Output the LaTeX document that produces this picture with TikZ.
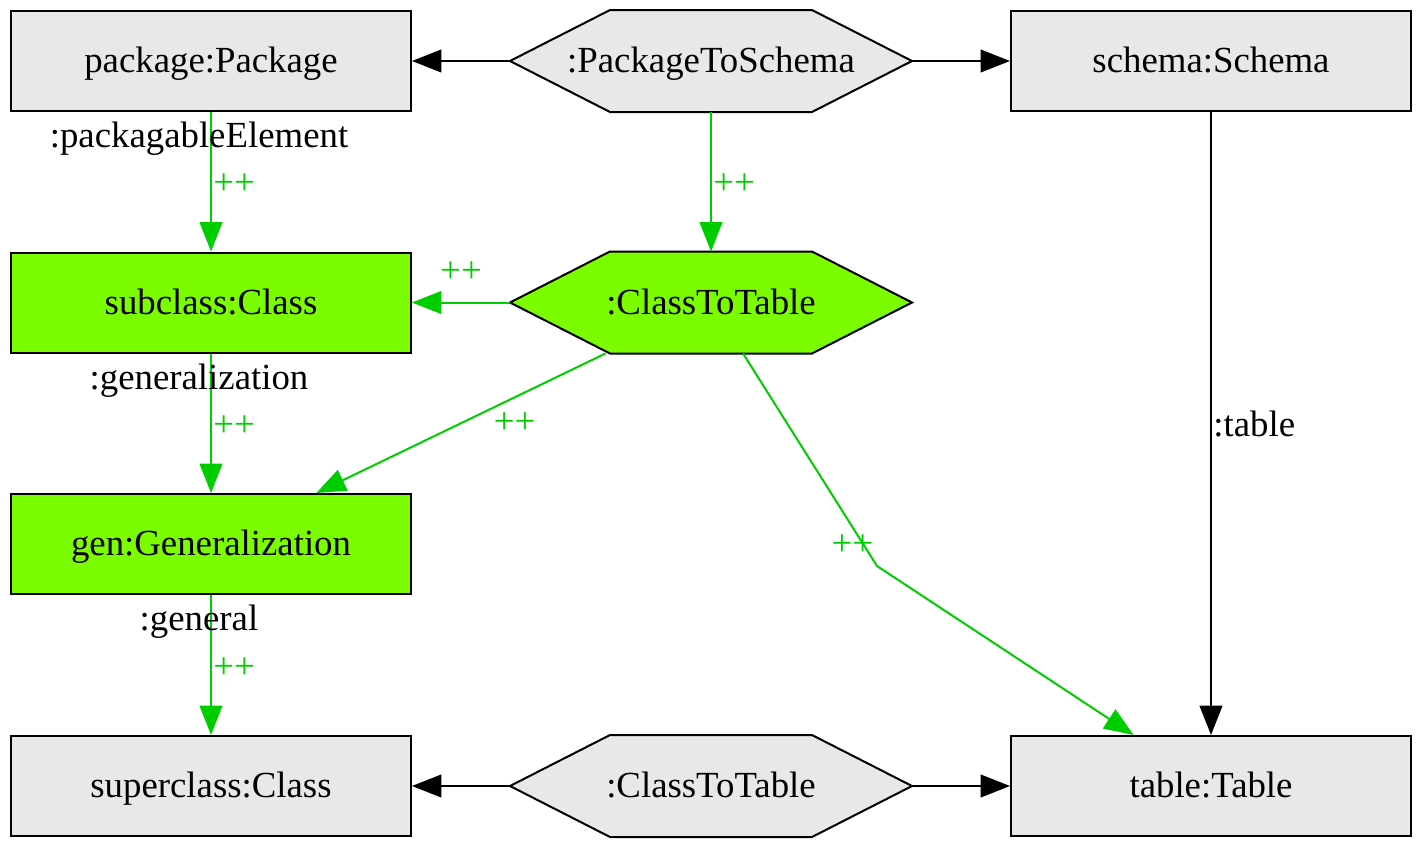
\documentclass[tikz,border=0pt]{standalone}
\usepackage{fontspec}
\setmainfont{Liberation Serif}
\usepackage{tikz}
\usetikzlibrary{arrows.meta, backgrounds}
\definecolor{boxgray}{HTML}{E8E8E8}
\definecolor{lawn}{HTML}{7CFC00}
\definecolor{linkgreen}{HTML}{00CD00}
\newcommand\diagfont{\fontsize{27.6}{33}\selectfont}
\tikzset{every picture/.style={line width=1.5pt}}

\begin{document}
\begin{tikzpicture}[x=0.75pt,y=0.75pt,yscale=-1,xscale=1,
  objbox/.style={draw, fill=boxgray, minimum width=300pt, minimum height=75pt, inner sep=0pt, text height=21pt, text depth=3.5pt, font=\diagfont},
  newbox/.style={objbox, fill=lawn},
  hitbox/.style={objbox, draw=none, fill=none},
  hexline/.style={draw=black, line width=1.5pt},
  plain/.style={-{Triangle[length=22pt,width=17pt]}, line width=1.5pt},
  created/.style={plain, draw=linkgreen},
  rolename/.style={font=\diagfont, inner sep=0pt},
  plusplus/.style={font=\diagfont, text=linkgreen, inner sep=0pt}
]
\useasboundingbox (0,0) rectangle (1422,847);

%Shape: Objects
\node[objbox] (package) at (211,61) {package:Package};
\node[hitbox] (pkgtoschema) at (711,61) {:PackageToSchema};
\node[objbox] (schema) at (1211,61) {schema:Schema};
\node[newbox] (subclass) at (211,302.5) {subclass:Class};
\node[hitbox] (classtotable) at (711,302.5) {:ClassToTable};
\node[newbox] (gen) at (211,544) {gen:Generalization};
\node[objbox] (superclass) at (211,786) {superclass:Class};
\node[hitbox] (ctt) at (711,786) {:ClassToTable};
\node[objbox] (table) at (1211,786) {table:Table};

%Shape: Hexagons
\begin{scope}[on background layer]
\foreach \hex/\col in {pkgtoschema/boxgray, classtotable/lawn, ctt/boxgray}
  \draw[hexline, fill=\col] (\hex.west) -- ([xshift=75pt]\hex.north west) -- ([xshift=-75pt]\hex.north east) -- (\hex.east) -- ([xshift=-75pt]\hex.south east) -- ([xshift=75pt]\hex.south west) -- cycle;
\end{scope}

%Straight Lines
\draw[plain] (pkgtoschema) -- (package);
\draw[plain] (pkgtoschema) -- (schema);
\draw[created] (package) -- node[at start, below=7pt, xshift=-9pt, rolename] {:packagableElement} node[midway, right=1pt, yshift=-2pt, plusplus] {++} (subclass);
\draw[created] (pkgtoschema) -- node[midway, right=1pt, yshift=-2pt, plusplus] {++} (classtotable);
\draw[created] (classtotable) -- node[midway, above=14pt, plusplus] {++} (subclass);
\draw[created] (subclass) -- node[at start, below=7pt, xshift=-9pt, rolename] {:generalization} node[midway, right=1pt, yshift=-2pt, plusplus] {++} (gen);
\draw[created] (classtotable) -- node[midway, right=24pt, plusplus] {++} (gen);
\coordinate (bend) at (877,566);
\draw[created] (classtotable) -- node[pos=0.9, xshift=-8.5pt, plusplus] {++} (bend) -- (table);
\draw[plain] (schema) -- node[midway, right=1pt, rolename] {:table} (table);
\draw[created] (gen) -- node[at start, below=7pt, xshift=-9pt, rolename] {:general} node[midway, right=1pt, yshift=-2pt, plusplus] {++} (superclass);
\draw[plain] (ctt) -- (superclass);
\draw[plain] (ctt) -- (table);

\end{tikzpicture}
\end{document}
